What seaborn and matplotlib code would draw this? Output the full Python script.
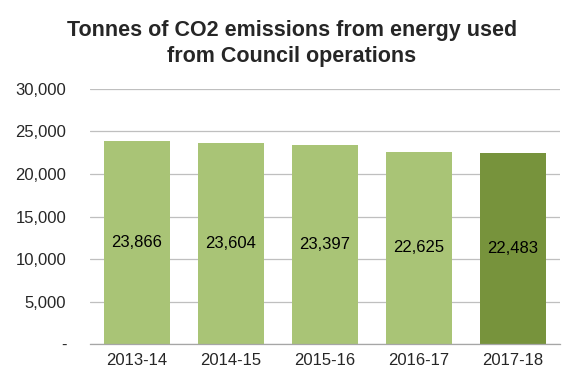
import seaborn as sns
import pandas as pd
import matplotlib.pyplot as plt
from matplotlib.ticker import FuncFormatter, FixedLocator

years = ["2013-14", "2014-15", "2015-16", "2016-17", "2017-18"]
tonnes = [23866, 23604, 23397, 22625, 22483]
colours = ["#A9C476", "#A9C476", "#A9C476", "#A9C476", "#77933C"]

df = pd.DataFrame({"year": years, "tonnes": tonnes})

sns.set_style("white")
plt.rcParams["font.family"] = ["Liberation Sans", "DejaVu Sans"]

fig = plt.figure(figsize=(5.84, 3.85), dpi=100)
ax = fig.add_axes([0.154, 0.106, 0.805, 0.663])

sns.barplot(data=df, x="year", y="tonnes", hue="year", palette=colours,
            width=0.7, legend=False, ax=ax, saturation=1, linewidth=0)

for i, v in enumerate(tonnes):
    ax.text(i, v / 2, f"{v:,}", ha="center", va="center", fontsize=12, color="black")

ax.set_ylim(0, 30000)
ax.set_xlim(-0.5, 4.5)
ax.set_yticks(range(0, 30001, 5000))
ax.yaxis.set_major_formatter(FuncFormatter(lambda v, p: "-" if v == 0 else f"{int(v):,}"))
ax.yaxis.grid(True, color="#BFBFBF", linewidth=0.9)
ax.set_axisbelow(True)
ax.tick_params(axis="y", length=0, labelsize=12, pad=17)
ax.tick_params(axis="x", which="major", length=0, labelsize=12, pad=6)
ax.xaxis.set_minor_locator(FixedLocator([-0.5, 0.5, 1.5, 2.5, 3.5, 4.5]))
ax.tick_params(axis="x", which="minor", length=5, color="#A6A6A6", width=0.9)
ax.set_xlabel("")
ax.set_ylabel("")

for s in ["top", "right", "left"]:
    ax.spines[s].set_visible(False)
ax.spines["bottom"].set_color("#A6A6A6")
ax.spines["bottom"].set_linewidth(0.9)

fig.text(0.5, 0.886, "Tonnes of CO2 emissions from energy used\nfrom Council operations",
         ha="center", va="center", fontsize=15.5, fontweight="bold", linespacing=1.3)

fig.savefig("out.png", dpi=100)
